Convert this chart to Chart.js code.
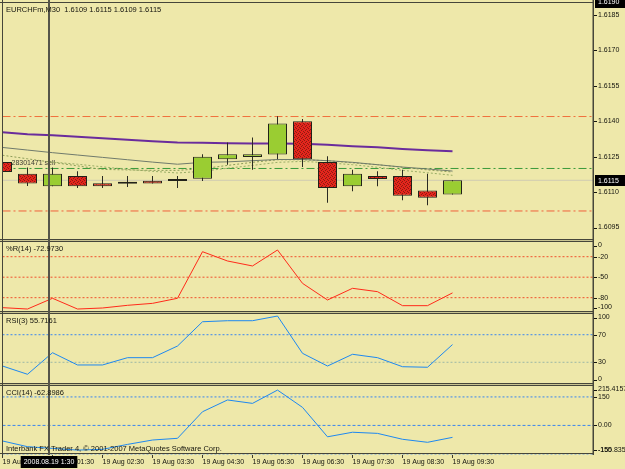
<!DOCTYPE html>
<html>
<head>
<meta charset="utf-8">
<script src="https://cdn.jsdelivr.net/npm/chart.js@4.4.1/dist/chart.umd.min.js"></script>
<style>
  html, body { margin: 0; padding: 0; background: #eee8aa; }
  canvas { display: block; }
</style>
</head>
<body>
<canvas id="chart" width="625" height="469"></canvas>
<script>
// EURCHFm M30 - candles, moving averages, %R / RSI / CCI sub windows
var TIMES = ["19 Aug 00:30", "19 Aug 01:00", "19 Aug 01:30", "19 Aug 02:00", "19 Aug 02:30", "19 Aug 03:00",
  "19 Aug 03:30", "19 Aug 04:00", "19 Aug 04:30", "19 Aug 05:00", "19 Aug 05:30", "19 Aug 06:00",
  "19 Aug 06:30", "19 Aug 07:00", "19 Aug 07:30", "19 Aug 08:00", "19 Aug 08:30", "19 Aug 09:00", "19 Aug 09:30"];

var OPEN  = [1.61227, 1.61178, 1.61125, 1.61168, 1.61137, 1.61135, 1.61148, 1.61147, 1.61157, 1.61239,
  1.61249, 1.61259, 1.61400, 1.61227, 1.61125, 1.61168, 1.61168, 1.61107, 1.6109];
var HIGH  = [1.61249, 1.61204, 1.61204, 1.61188, 1.61168, 1.61168, 1.61168, 1.61168, 1.61260, 1.61310,
  1.61331, 1.61421, 1.61409, 1.61252, 1.61195, 1.61188, 1.61195, 1.61178, 1.6115];
var LOW   = [1.61179, 1.61126, 1.61125, 1.61117, 1.61117, 1.61122, 1.61136, 1.61117, 1.61147, 1.61216,
  1.61195, 1.61239, 1.61206, 1.61055, 1.61104, 1.61125, 1.61065, 1.61044, 1.6109];
var CLOSE = [1.61185, 1.61136, 1.61178, 1.61125, 1.61125, 1.61135, 1.61136, 1.61147, 1.61250, 1.61260,
  1.61260, 1.61390, 1.61239, 1.61117, 1.61178, 1.61155, 1.61085, 1.61076, 1.6115];

var MA_SLOW = [1.61353, 1.61345, 1.61341, 1.61334, 1.61328, 1.61322, 1.61315, 1.61310, 1.61309, 1.61307,
  1.61306, 1.61306, 1.61305, 1.61300, 1.61294, 1.61290, 1.61283, 1.61277, 1.61273];
var MA_MID = [1.61289, 1.61278, 1.61267, 1.61257, 1.61247, 1.61237, 1.61227, 1.61218, 1.61226, 1.61228,
  1.61233, 1.61238, 1.61238, 1.61233, 1.61226, 1.61216, 1.61206, 1.61198, 1.61189];
var MA_DOT_A = [1.61256, 1.61241, 1.61226, 1.61211, 1.61196, 1.61194, 1.61192, 1.61192, 1.61199, 1.61213,
  1.61226, 1.61237, 1.61237, 1.61233, 1.61224, 1.61216, 1.61205, 1.61194, 1.61185];
var MA_DOT_B = [null, null, 1.61227, 1.61218, 1.61207, 1.61196, 1.61188, 1.61181, 1.61188, 1.61201,
  1.61213, 1.61226, 1.61230, 1.61224, 1.61216, 1.61205, 1.61192, 1.61182, 1.61171];

var WPR = [-94.6, -96.6, -80.9, -96.6, -95.1, -91.2, -88.3, -80.9, -12.7, -26.3,
  -33.6, -10.2, -59.0, -83.4, -66.3, -71.2, -91.7, -91.7, -73.0];
var RSI = [24.6, 12.6, 43.9, 26.1, 26.1, 36.7, 36.7, 53.6, 88.8, 90.3,
  90.3, 97.1, 43.0, 24.6, 41.6, 36.7, 23.6, 22.8, 55.7];
var CCI = [-82, -112, -121, -130, -126, -100, -77, -68, 72, 134,
  116, 186, 95, -60, -36, -42, -73, -89, -62.9];

var PRICE_TICKS = [1.6185, 1.6170, 1.6155, 1.6140, 1.6125, 1.6110, 1.6095];
var WPR_TICKS = [0, -20, -50, -80, -100];
var RSI_TICKS = [100, 70, 30, 0];
var CCI_TICKS = [215.4157, 150, 0, -150, -155.835];
var CCI_TICK_LABELS = ["215.4157", "150", "0.00", "-150", "-155.835"];

var WPR_LEVELS = [-20, -50, -80];
var RSI_LEVELS = [70, 30];
var CCI_LEVELS = [150, 0, -150];

var STOP_PRICE = 1.6142;
var ORDER_PRICE = 1.6120;
var TAKE_PRICE = 1.6102;
var PRICE_MAX_LABEL = "1.6190";

var SYMBOL_TEXT = "EURCHFm,M30  1.6109 1.6115 1.6109 1.6115";
var WPR_TEXT = "%R(14) -72.9730";
var RSI_TEXT = "RSI(3) 55.7161";
var CCI_TEXT = "CCI(14) -62.8986";
var ORDER_TEXT = "28301471 sell";
var COPYRIGHT = "Interbank FX Trader 4, \u00a9 2001-2007 MetaQuotes Software Corp.";
var CROSS_X = 1.84;
var CROSS_LABEL = "2008.08.19 1:30";

(function () {
  "use strict";

  var BG = "#eee8aa";
  var INK = "#14140e";
  var FRAME = "#46463a";
  var GREEN = "#9acd32";
  var X_MIN = 0, X_MAX = 23.66;
  var FONT = '7px "Liberation Sans", Arial, sans-serif';
  var TITLE_FONT = '7.5px "Liberation Sans", Arial, sans-serif';

  function pts(arr) {
    return arr.map(function (v, i) { return { x: i, y: v }; });
  }

  function hline(value, axis, color, dash, order) {
    return {
      type: "line", yAxisID: axis, data: [{ x: X_MIN, y: value }, { x: X_MAX, y: value }],
      borderColor: color, borderWidth: 1, borderDash: dash, pointRadius: 0, order: order
    };
  }

  function line(arr, axis, color, width, dash, order) {
    return {
      type: "line", yAxisID: axis, data: pts(arr), borderColor: color, borderWidth: width,
      borderDash: dash || [], pointRadius: 0, tension: 0, spanGaps: false, order: order
    };
  }

  // dithered red like the terminal draws bearish bodies
  function redPattern() {
    var c = document.createElement("canvas");
    c.width = 4; c.height = 4;
    var g = c.getContext("2d");
    g.fillStyle = "#e4261c"; g.fillRect(0, 0, 4, 4);
    g.fillStyle = "#8e1a12"; g.fillRect(0, 0, 1, 1); g.fillRect(2, 1, 1, 1); g.fillRect(1, 2, 1, 1); g.fillRect(3, 3, 1, 1);
    return g.createPattern(c, "repeat");
  }

  var RED = redPattern();
  var bodyColors = OPEN.map(function (o, i) { return CLOSE[i] >= o ? GREEN : RED; });

  var datasets = [
    {
      type: "bar", yAxisID: "yP", order: 0, grouped: false,
      data: OPEN.map(function (o, i) { return { x: i, y: [o, CLOSE[i]] }; }),
      backgroundColor: bodyColors, borderColor: "#22221a", borderWidth: 1,
      borderSkipped: false, barThickness: 19, minBarLength: 2, inflateAmount: 0
    },
    {
      type: "bar", yAxisID: "yP", order: 1, grouped: false,
      data: LOW.map(function (l, i) { return { x: i, y: [l, HIGH[i]] }; }),
      backgroundColor: "#2a2a22", borderWidth: 0, barThickness: 1, inflateAmount: 0
    },
    line(MA_SLOW, "yP", "#6a2c9c", 2, null, 2),
    line(MA_MID, "yP", "#6f7a6c", 1, null, 3),
    line(MA_DOT_A, "yP", "#8c9c58", 1, [2, 2], 4),
    line(MA_DOT_B, "yP", "#9aae66", 1, [2, 2], 4),
    hline(STOP_PRICE, "yP", "#f0703c", [8, 3, 2, 3], 6),
    hline(TAKE_PRICE, "yP", "#f0603c", [8, 3, 2, 3], 6),
    hline(ORDER_PRICE, "yP", "#3a9a3a", [8, 3, 2, 3], 6),
    hline(CLOSE[CLOSE.length - 1], "yP", "#cfcbb2", [], 7),
    line(WPR, "yW", "#ff2a1a", 1, null, 2),
    line(RSI, "yR", "#1e88f0", 1, null, 2),
    line(CCI, "yC", "#1e88f0", 1, null, 2)
  ];
  WPR_LEVELS.forEach(function (v) { datasets.push(hline(v, "yW", "#f0502c", [2, 2], 6)); });
  RSI_LEVELS.forEach(function (v, i) { datasets.push(hline(v, "yR", i === 0 ? "#3a86f0" : "#9cb8a6", [2, 2], 6)); });
  CCI_LEVELS.forEach(function (v) { datasets.push(hline(v, "yC", "#3a86f0", v === 0 ? [3, 2] : [2, 2], 6)); });

  function yAxis(weight, min, max) {
    return {
      type: "linear", position: "right", stack: "mt", stackWeight: weight, min: min, max: max,
      grid: { display: false }, border: { display: false }, ticks: { display: false },
      afterFit: function (s) { s.width = 31; }
    };
  }

  function drawLabels(ctx, s, values, labels) {
    values.forEach(function (v, i) {
      var y = s.getPixelForValue(v);
      y = Math.max(s.top + 5, Math.min(s.bottom - 5, y));
      ctx.fillRect(s.left, Math.round(y), 3, 1);
      ctx.fillText(labels[i], s.left + 4, y);
    });
  }

  function tag(ctx, x, y, text) {
    ctx.fillStyle = "#000000";
    ctx.fillRect(x, Math.round(y) - 5, 625 - x, 11);
    ctx.fillStyle = "#ffffff";
    ctx.fillText(text, x + 3, y + 0.5);
  }

  var mtPlugin = {
    id: "mtFrame",
    beforeDraw: function (chart) {
      var ctx = chart.ctx;
      ctx.save();
      ctx.fillStyle = BG;
      ctx.fillRect(0, 0, chart.width, chart.height);
      ctx.restore();
    },
    beforeDatasetsDraw: function (chart) {
      var ctx = chart.ctx, yP = chart.scales.yP;
      ctx.save();
      ctx.font = FONT;
      ctx.fillStyle = "#3c3c34";
      ctx.textBaseline = "alphabetic";
      ctx.fillText(ORDER_TEXT, chart.chartArea.left + 9, yP.getPixelForValue(ORDER_PRICE) - 3);
      ctx.restore();
    },
    afterDraw: function (chart) {
      var ctx = chart.ctx, area = chart.chartArea, sc = chart.scales;
      var ids = ["yP", "yW", "yR", "yC"];
      var titles = [SYMBOL_TEXT, WPR_TEXT, RSI_TEXT, CCI_TEXT];
      ctx.save();

      // window frames: each sub window has its own border, two px apart
      ctx.strokeStyle = FRAME;
      ctx.lineWidth = 1;
      ctx.beginPath();
      ids.forEach(function (id) {
        var s = sc[id];
        var t = Math.round(s.top) + 0.5, b = Math.round(s.bottom) - 1.5;
        ctx.moveTo(0, t); ctx.lineTo(area.right, t);
        ctx.moveTo(0, b); ctx.lineTo(area.right, b);
      });
      ctx.moveTo(2.5, 0); ctx.lineTo(2.5, area.bottom);
      ctx.stroke();
      ctx.lineWidth = 1.5;
      ctx.beginPath();
      ctx.moveTo(Math.round(area.right) - 0.75, 0); ctx.lineTo(Math.round(area.right) - 0.75, area.bottom);
      ctx.stroke();
      ctx.fillStyle = "rgba(70,70,58,0.45)";
      ids.slice(1).forEach(function (id) {
        ctx.fillRect(0, Math.round(sc[id].top) - 0.5, area.right, 1);
      });

      // crosshair
      var cx = Math.round(sc.x.getPixelForValue(CROSS_X));
      ctx.fillStyle = "#55554a";
      ctx.fillRect(cx - 1, 0, 2, area.bottom);

      // window titles
      ctx.font = TITLE_FONT;
      ctx.fillStyle = INK;
      ctx.textBaseline = "middle";
      ctx.textAlign = "left";
      ids.forEach(function (id, i) {
        ctx.fillText(titles[i], 6, sc[id].top + 8);
      });
      ctx.fillText(COPYRIGHT, 6, sc.yC.bottom - 6);

      // right price / value scale
      ctx.font = FONT;
      ctx.fillStyle = INK;
      drawLabels(ctx, sc.yP, PRICE_TICKS, PRICE_TICKS.map(function (v) { return v.toFixed(4); }));
      drawLabels(ctx, sc.yW, WPR_TICKS, WPR_TICKS.map(String));
      drawLabels(ctx, sc.yR, RSI_TICKS, RSI_TICKS.map(String));
      drawLabels(ctx, sc.yC, CCI_TICKS, CCI_TICK_LABELS);

      var px = Math.round(area.right) + 1;
      tag(ctx, px, sc.yP.top, PRICE_MAX_LABEL);
      var last = CLOSE[CLOSE.length - 1];
      tag(ctx, px, sc.yP.getPixelForValue(last), last.toFixed(4));

      // time of crosshair
      var w = ctx.measureText(CROSS_LABEL).width + 6;
      ctx.fillStyle = "#000000";
      ctx.fillRect(cx - w / 2, area.bottom + 1, w, 12);
      ctx.fillStyle = "#ffffff";
      ctx.textAlign = "center";
      ctx.fillText(CROSS_LABEL, cx, area.bottom + 7.5);
      ctx.restore();
    }
  };

  var xTicks = TIMES.map(function (t, i) { return i; }).filter(function (i) { return i % 2 === 0; });

  new Chart(document.getElementById("chart"), {
    type: "bar",
    data: { datasets: datasets },
    options: {
      responsive: false,
      animation: false,
      layout: { padding: { left: 2.5, top: 2, right: 0, bottom: 0 } },
      plugins: { legend: { display: false }, tooltip: { enabled: false } },
      scales: {
        x: {
          type: "linear", position: "bottom", min: X_MIN, max: X_MAX, offset: false,
          grid: { display: true, offset: false, drawOnChartArea: false, tickLength: 3, color: "#3a3a30" },
          border: { display: false },
          afterBuildTicks: function (s) { s.ticks = xTicks.map(function (v) { return { value: v }; }); },
          afterFit: function (s) { s.height = 14; },
          ticks: {
            align: "start", padding: 0, autoSkip: false, maxRotation: 0, color: INK,
            font: { family: '"Liberation Sans", Arial, sans-serif', size: 7 },
            callback: function (v) { return TIMES[v]; }
          }
        },
        yP: yAxis(238.5, 1.60895, 1.61905),
        yW: yAxis(72, -101.7, 3.7),
        yR: yAxis(72, -2.2, 102.2),
        yC: yAxis(70.5, -155.835, 215.4157)
      }
    },
    plugins: [mtPlugin]
  });
})();
</script>
</body>
</html>
